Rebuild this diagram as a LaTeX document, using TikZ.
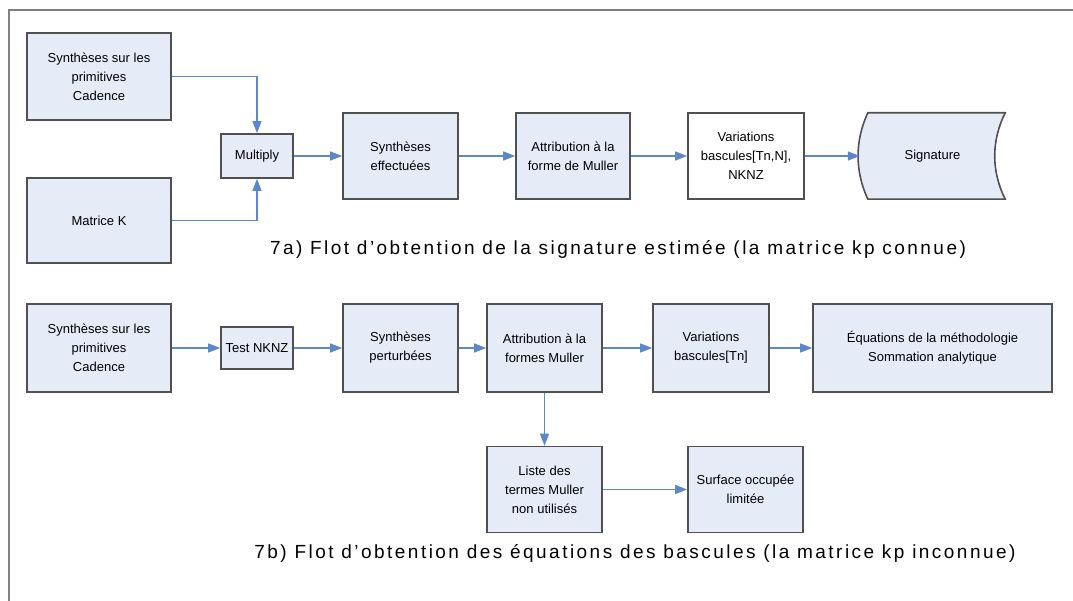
\documentclass[tikz,border=0pt]{standalone}
\usepackage{fontspec}
\setmainfont{Liberation Sans}
\usetikzlibrary{arrows.meta,calc}
\definecolor{boxfill}{RGB}{230,236,247}
\definecolor{boxline}{RGB}{80,80,80}
\definecolor{flow}{RGB}{92,136,200}
\definecolor{frame}{RGB}{128,128,128}
\tikzset{
  blk/.style={draw=boxline, line width=1.6pt, fill=boxfill, align=center,
    inner sep=2pt, font=\fontsize{13}{19}\selectfont},
  wblk/.style={blk, fill=white},
  flw/.style={draw=flow, line width=1.3pt, -{Triangle[length=12pt,width=9pt]}},
  captext/.style={font=\fontsize{19}{23}\selectfont\addfontfeature{LetterSpace=13}, anchor=center}
}
\begin{document}
\begin{tikzpicture}[x=1pt,y=-1pt]
\useasboundingbox (0,0) rectangle (1073,601);
% page frame (top and left rules)
\draw[frame, line width=1.5pt] (9,601) -- (9,10) -- (1073,10);

% ---- flow (a): estimated signature
\node[blk, minimum width=144pt, minimum height=87pt] (a1) at (99,76.5) {Synthèses sur les\\primitives\\Cadence};
\node[blk, minimum width=144pt, minimum height=85pt] (mk) at (99,220.5) {Matrice K};
\node[blk, minimum width=72pt, minimum height=44pt] (mul) at (257,156) {Multiply};
\node[blk, minimum width=115pt, minimum height=86pt] (se) at (400.5,156) {Synthèses\\effectuées};
\node[blk, minimum width=114pt, minimum height=86pt] (at1) at (573,156) {Attribution à la\\forme de Muller};
\node[wblk, minimum width=116pt, minimum height=86pt] (va1) at (746,156) {Variations\\bascules[Tn,N],\\NKNZ};
% stored-data symbol: convex left side, concave right side
\node[minimum width=145pt, minimum height=86pt, inner sep=0pt] (sig) at (932.5,156) {};
\draw[boxline, line width=1.6pt, fill=boxfill]
  ($(sig.north west)+(8,0)$) coordinate (sgA)
  -- (sig.north east)
  .. controls ($(sig.north east)+(-14,28)$) and ($(sig.south east)+(-14,-28)$) .. (sig.south east)
  -- ($(sig.south west)+(8,0)$)
  .. controls ($(sig.south west)+(-5,-28)$) and ($(sig.north west)+(-5,28)$) .. (sgA) -- cycle;
\node[font=\fontsize{13}{19}\selectfont] (sigt) at (sig.center) {Signature};

\draw[flw] (a1.east) -| (mul.north);
\draw[flw] (mk.east) -| (mul.south);
\draw[flw] (mul) -- (se);
\draw[flw] (se) -- (at1);
\draw[flw] (at1) -- (va1);
\draw[flw] (va1.east) -- (sig.west);

\node[captext] (capa) at (618,249) {7a) Flot d'obtention de la signature estimée (la matrice kp connue)};

% ---- flow (b): flip-flop equations
\node[blk, minimum width=144pt, minimum height=88pt] (b1) at (99,348) {Synthèses sur les\\primitives\\Cadence};
\node[blk, minimum width=72pt, minimum height=42pt] (tk) at (257,348) {Test NKNZ};
\node[blk, minimum width=115pt, minimum height=88pt] (sp) at (400.5,348) {Synthèses\\perturbées};
\node[blk, minimum width=115pt, minimum height=88pt] (at2) at (544.5,348) {Attribution à la\\formes Muller};
\node[blk, minimum width=116pt, minimum height=88pt] (va2) at (711,348) {Variations\\bascules[Tn]};
\node[blk, minimum width=239pt, minimum height=88pt] (eq) at (932.5,348) {Équations de la méthodologie\\Sommation analytique};
\node[blk, minimum width=115pt, minimum height=86pt] (li) at (544.5,489.5) {Liste des\\termes Muller\\non utilisés};
\node[blk, minimum width=115pt, minimum height=86pt] (su) at (745.5,489.5) {Surface occupée\\limitée};

\draw[flw] (b1) -- (tk);
\draw[flw] (tk) -- (sp);
\draw[flw] (sp) -- (at2);
\draw[flw] (at2) -- (va2);
\draw[flw] (va2) -- (eq);
\draw[flw] (at2) -- (li);
\draw[flw] (li) -- (su);

\node[captext] (capb) at (635,553) {7b) Flot d'obtention des équations des bascules (la matrice kp inconnue)};
\end{tikzpicture}
\end{document}
